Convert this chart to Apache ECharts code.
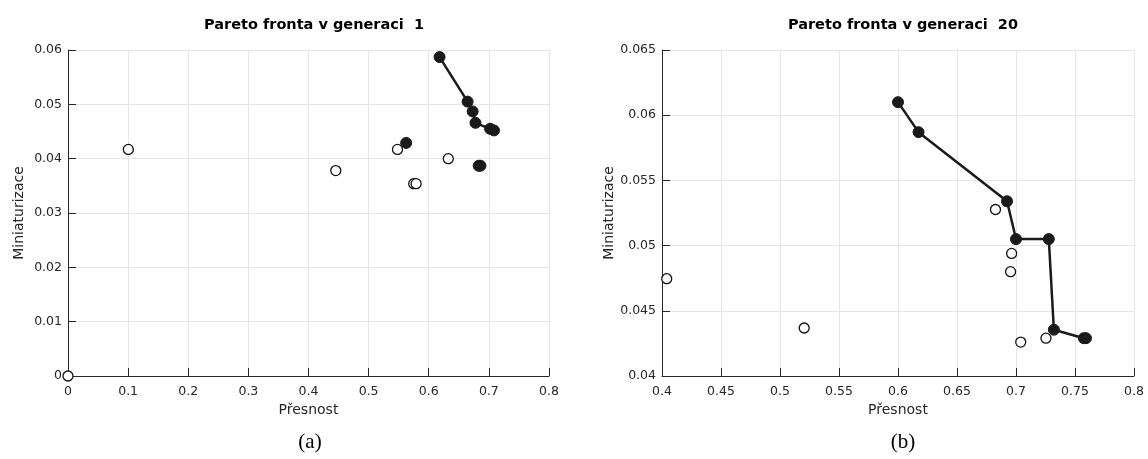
<!DOCTYPE html>
<html>
<head>
<meta charset="utf-8">
<script src="https://cdn.jsdelivr.net/npm/echarts@6/dist/echarts.min.js"></script>
<style>html,body{margin:0;padding:0;background:#fff}#c{width:1148px;height:459px}</style>
</head>
<body>
<div id="c"></div>
<script>
// ---- Data ----
// Chart (a): generation 1
const frontA_x = [0.618, 0.6646, 0.673, 0.6777, 0.702, 0.7085];
const frontA_y = [0.0587, 0.0505, 0.0487, 0.0466, 0.0455, 0.0452];
const filledA_x = [0.5624, 0.683, 0.686];
const filledA_y = [0.0429, 0.0387, 0.0387];
const openA_x = [0, 0.1004, 0.4454, 0.548, 0.6325, 0.575, 0.579];
const openA_y = [0, 0.0417, 0.0378, 0.0417, 0.0400, 0.0354, 0.0354];
// Chart (b): generation 20
const frontB_x = [0.600, 0.6174, 0.6924, 0.700, 0.7278, 0.7321, 0.7575, 0.7593];
const frontB_y = [0.0610, 0.0587, 0.0534, 0.0505, 0.0505, 0.04355, 0.0429, 0.0429];
const openB_x = [0.404, 0.5205, 0.6826, 0.6963, 0.6954, 0.704, 0.7254];
const openB_y = [0.04746, 0.04368, 0.05277, 0.0494, 0.0480, 0.0426, 0.0429];

const titles = ['Pareto fronta v generaci  1', 'Pareto fronta v generaci  20'];
const captions = ['(a)', '(b)'];
const xName = 'Přesnost';
const yName = 'Miniaturizace';

const zip = (xs, ys) => xs.map((x, i) => [x, ys[i]]);

const TXT = '#262626';
const GRID = '#e6e6e6';
const FONT = 'DejaVu Sans';

function xAxis(idx, min, max, interval) {
  return {
    gridIndex: idx, type: 'value', min, max, interval,
    name: xName, nameLocation: 'middle', nameGap: 21,
    nameTextStyle: { fontFamily: FONT, fontSize: 14, color: TXT },
    axisLine: { show: true, lineStyle: { color: TXT, width: 1 } },
    axisTick: { show: true, inside: true, length: 8, lineStyle: { color: TXT } },
    axisLabel: { fontFamily: FONT, fontSize: 12.5, color: TXT, margin: 9 },
    splitLine: { show: true, lineStyle: { color: GRID, width: 1 } }
  };
}
function yAxis(idx, min, max, interval, gap) {
  return {
    gridIndex: idx, type: 'value', min, max, interval,
    name: yName, nameLocation: 'middle', nameGap: gap, nameRotate: 90,
    nameTextStyle: { fontFamily: FONT, fontSize: 14, color: TXT },
    axisLine: { show: true, lineStyle: { color: TXT, width: 1 } },
    axisTick: { show: true, inside: true, length: 8, lineStyle: { color: TXT } },
    axisLabel: { fontFamily: FONT, fontSize: 12.5, color: TXT, margin: 6 },
    splitLine: { show: true, lineStyle: { color: GRID, width: 1 } }
  };
}

const filledStyle = { color: '#1a1a1a', borderColor: '#1a1a1a', borderWidth: 1, opacity: 1 };
const openStyle = { color: '#ffffff', borderColor: '#111111', borderWidth: 1.3, opacity: 1 };

const chart = echarts.init(document.getElementById('c'), null, { renderer: 'canvas' });
chart.setOption({
  animation: false,
  backgroundColor: '#ffffff',
  title: [
    { text: titles[0], left: 309, top: 13, textAlign: 'center',
      textStyle: { fontFamily: FONT, fontSize: 14.5, fontWeight: 'bold', color: '#000' } },
    { text: titles[1], left: 898, top: 13, textAlign: 'center',
      textStyle: { fontFamily: FONT, fontSize: 14.5, fontWeight: 'bold', color: '#000' } },
    { text: captions[0], left: 305, top: 427, textAlign: 'center',
      textStyle: { fontFamily: 'Liberation Serif', fontSize: 21, fontWeight: 'normal', color: '#000' } },
    { text: captions[1], left: 898, top: 427, textAlign: 'center',
      textStyle: { fontFamily: 'Liberation Serif', fontSize: 21, fontWeight: 'normal', color: '#000' } }
  ],
  grid: [
    { left: 68, top: 50, width: 481, height: 326 },
    { left: 662, top: 50, width: 472, height: 326 }
  ],
  xAxis: [xAxis(0, 0, 0.8, 0.1), xAxis(1, 0.4, 0.8, 0.05)],
  yAxis: [yAxis(0, 0, 0.06, 0.01, 42), yAxis(1, 0.04, 0.065, 0.005, 46)],
  series: [
    { type: 'scatter', xAxisIndex: 0, yAxisIndex: 0, data: zip(openA_x, openA_y),
      symbol: 'circle', symbolSize: 10, itemStyle: openStyle, z: 2 },
    { type: 'scatter', xAxisIndex: 0, yAxisIndex: 0, data: zip(filledA_x, filledA_y),
      symbol: 'circle', symbolSize: 11, itemStyle: filledStyle, z: 3 },
    { type: 'line', xAxisIndex: 0, yAxisIndex: 0, data: zip(frontA_x, frontA_y),
      symbol: 'circle', symbolSize: 11, showAllSymbol: true,
      lineStyle: { color: '#1a1a1a', width: 2.5 }, itemStyle: filledStyle, z: 4 },
    { type: 'scatter', xAxisIndex: 1, yAxisIndex: 1, data: zip(openB_x, openB_y),
      symbol: 'circle', symbolSize: 10, itemStyle: openStyle, z: 2 },
    { type: 'line', xAxisIndex: 1, yAxisIndex: 1, data: zip(frontB_x, frontB_y),
      symbol: 'circle', symbolSize: 11, showAllSymbol: true,
      lineStyle: { color: '#1a1a1a', width: 2.5 }, itemStyle: filledStyle, z: 4 }
  ]
});
</script>
</body>
</html>
